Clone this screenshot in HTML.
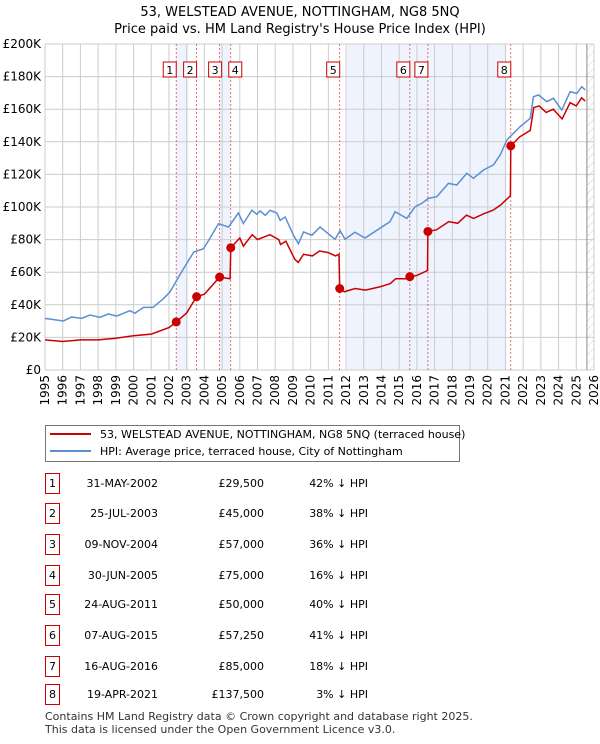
<!DOCTYPE html>
<html><head><meta charset="utf-8"><style>
body{margin:0;background:#fff;font-family:"DejaVu Sans","Liberation Sans",sans-serif;}
svg text{font-family:"DejaVu Sans","Liberation Sans",sans-serif;}
</style></head><body>
<svg id="c" width="600" height="740" xmlns="http://www.w3.org/2000/svg">
<defs><pattern id="hatch" width="6" height="6" patternUnits="userSpaceOnUse" patternTransform="rotate(45)"><line x1="0" y1="0" x2="0" y2="6" stroke="#ccc" stroke-width="1"/></pattern></defs>
<text x="300" y="16" text-anchor="middle" font-size="13">53, WELSTEAD AVENUE, NOTTINGHAM, NG8 5NQ</text>
<text x="300" y="33" text-anchor="middle" font-size="13">Price paid vs. HM Land Registry's House Price Index (HPI)</text>
<g id="plot"></g>
<g>
<rect x="45.5" y="425.5" width="414" height="36" fill="#fff" stroke="#777"/>
<line x1="50" y1="434" x2="91" y2="434" stroke="#cc0000" stroke-width="2"/>
<text x="100" y="438" font-size="11">53, WELSTEAD AVENUE, NOTTINGHAM, NG8 5NQ (terraced house)</text>
<line x1="50" y1="451" x2="91" y2="451" stroke="#5b8fd4" stroke-width="2"/>
<text x="100" y="455" font-size="11">HPI: Average price, terraced house, City of Nottingham</text>
</g>
<g id="table"></g>
<text x="45" y="720" font-size="11" fill="#333">Contains HM Land Registry data © Crown copyright and database right 2025.</text>
<text x="45" y="733" font-size="11" fill="#333">This data is licensed under the Open Government Licence v3.0.</text>
</svg>
<script>
const hpiYears=[1995,1996.04,1996.5,1997.07,1997.54,1998.1,1998.58,1999.05,1999.8,2000.08,2000.56,2001.1,2001.7,2002.06,2002.6,2003.4,2003.95,2004.3,2004.8,2005.36,2005.92,2006.2,2006.68,2006.96,2007.15,2007.43,2007.71,2008.09,2008.28,2008.56,2009.03,2009.31,2009.6,2010.07,2010.53,2011.38,2011.66,2011.94,2012.5,2013.07,2013.92,2014.48,2014.77,2015.43,2015.9,2016.27,2016.65,2017.12,2017.78,2018.25,2018.82,2019.19,2019.76,2020.32,2020.7,2021.08,2021.83,2022.4,2022.58,2022.87,2023.34,2023.71,2024.18,2024.65,2025.03,2025.31,2025.5];
const hpiValues=[31.7,30.1,32.5,31.7,33.7,32.3,34.4,33.1,36.4,34.8,38.4,38.4,43.9,47.9,58.1,72.4,74.4,80.6,89.8,87.7,96.3,89.8,98,95.5,97.6,94.9,98,96.3,91.8,93.9,82.7,77.5,84.7,82.7,87.7,80.2,85.5,80.2,84.5,81,87,91,97.1,93,100.2,102.2,105.3,106.3,114.5,113.5,120.7,117.6,122.7,125.8,131.9,141.1,149.3,154.4,167.7,168.7,164.6,166.7,159.5,170.7,169.7,173.8,171.8];
const ppYears=[1995,1996,1997,1998,1999,2000,2001,2002,2002.41,2003,2003.56,2004,2004.86,2005.45,2005.49,2006,2006.2,2006.7,2007,2007.7,2008.2,2008.3,2008.6,2009.1,2009.3,2009.6,2010.1,2010.5,2011.0,2011.4,2011.6,2011.64,2011.9,2012.5,2013.1,2013.9,2014.5,2014.8,2015.4,2015.6,2016.0,2016.6,2016.62,2017.1,2017.8,2018.3,2018.8,2019.2,2019.8,2020.3,2020.7,2021.1,2021.28,2021.3,2021.8,2022.4,2022.6,2022.9,2023.3,2023.7,2024.2,2024.65,2025.0,2025.3,2025.5];
const ppValues=[18.5,17.5,18.5,18.5,19.5,21,22,26,29.5,35,45,46.5,57,56,75,81,76,83,80,83,80,77,79,68,66,71,70,73,72,70,71,50,48,50,49,51,53,56,56,57.25,58,61,85,86,91,90,95,93,96,98,101,105,107,137.5,143,147,161,162,158,160,154,164,162,167,165];
const saleLabels=["1","2","3","4","5","6","7","8"];
const saleYears=[2002.41,2003.56,2004.86,2005.49,2011.64,2015.6,2016.62,2021.3];
const salePrices=[29.5,45,57,75,50,57.25,85,137.5];
const saleDates=["31-MAY-2002","25-JUL-2003","09-NOV-2004","30-JUN-2005","24-AUG-2011","07-AUG-2015","16-AUG-2016","19-APR-2021"];
const salePriceText=["£29,500","£45,000","£57,000","£75,000","£50,000","£57,250","£85,000","£137,500"];
const salePct=["42% ↓ HPI","38% ↓ HPI","36% ↓ HPI","16% ↓ HPI","40% ↓ HPI","41% ↓ HPI","18% ↓ HPI","3% ↓ HPI"];
const yTicks=[0,20,40,60,80,100,120,140,160,180,200];
const yTickLabels=["£0","£20K","£40K","£60K","£80K","£100K","£120K","£140K","£160K","£180K","£200K"];
const bands=[[2002.41,2003.1],[2004.86,2005.49],[2012.05,2021.05]];

const X0=45,X1=594,Y0=370,Y1=44,T0=1995,T1=2026;
const xs=t=>X0+(t-T0)/(T1-T0)*(X1-X0);
const ys=v=>Y0-(v/200)*(Y0-Y1);
const NS="http://www.w3.org/2000/svg";
const plot=document.getElementById('plot');
function mk(tag,at,parent){const e=document.createElementNS(NS,tag);for(const k in at)e.setAttribute(k,at[k]);(parent||plot).appendChild(e);return e;}
bands.forEach(b=>{const r=mk('rect',{x:xs(b[0]),y:Y1,width:xs(b[1])-xs(b[0]),height:Y0-Y1,fill:'#eef3fd'});

});
const hs=mk('rect',{x:xs(2025.6),y:Y1,width:X1-xs(2025.6),height:Y0-Y1,fill:'url(#hatch)'});


yTicks.forEach((v,i)=>{const l=mk('line',{x1:X0,x2:X1,y1:ys(v),y2:ys(v),stroke:'#ccc'});


const t=mk('text',{x:X0-4,y:ys(v)+4,'text-anchor':'end','font-size':12});t.textContent=yTickLabels[i];

});
for(let y=T0;y<=T1;y++){const l=mk('line',{x1:xs(y),x2:xs(y),y1:Y1,y2:Y0,stroke:'#ccc'});


const t=mk('text',{x:0,y:0,'text-anchor':'end','font-size':12,transform:`translate(${xs(y)+4},${Y0+5}) rotate(-90)`});t.textContent=y;

}
const vl=mk('line',{x1:xs(2025.6),x2:xs(2025.6),y1:Y1,y2:Y0,stroke:'#888'});


saleYears.forEach((s,i)=>{const l=mk('line',{x1:xs(s),x2:xs(s),y1:Y1,y2:Y0,stroke:'#e05050','stroke-dasharray':'2,2','stroke-width':0.8});

});
const hp=mk('polyline',{points:hpiYears.map((t,i)=>xs(t)+','+ys(hpiValues[i])).join(' '),fill:'none',stroke:'#5b8fd4','stroke-width':1.5});


const pp=mk('polyline',{points:ppYears.map((t,i)=>xs(t)+','+ys(ppValues[i])).join(' '),fill:'none',stroke:'#cc0000','stroke-width':1.5});


saleYears.forEach((s,i)=>{const c=mk('circle',{cx:xs(s),cy:ys(salePrices[i]),r:4.5,fill:'#cc0000'});


let bx=xs(s)-13;if(i==3)bx=xs(s)-2;if(i==2)bx=xs(s)-11;
const r=mk('rect',{x:bx,y:62,width:13,height:15,fill:'#fff',stroke:'#cc0000'});


const t=mk('text',{x:bx+6.5,y:74,'text-anchor':'middle','font-size':11});t.textContent=saleLabels[i];

});
const tb=document.getElementById('table');
const rowY=[483,513,544,575,604,635,666,694];
saleLabels.forEach((lab,i)=>{const y=rowY[i];
const r=mk('rect',{x:45.5,y:y-9.5,width:14,height:20,fill:'#fff',stroke:'#cc0000'},tb);


const a=mk('text',{x:52.5,y:y+4,'text-anchor':'middle','font-size':11},tb);a.textContent=lab;


const d=mk('text',{x:158,y:y+4,'text-anchor':'end','font-size':11},tb);d.textContent=saleDates[i];


const p=mk('text',{x:264,y:y+4,'text-anchor':'end','font-size':11},tb);p.textContent=salePriceText[i];


const q=mk('text',{x:368,y:y+4,'text-anchor':'end','font-size':11},tb);q.textContent=salePct[i];

});
</script>
</body></html>
